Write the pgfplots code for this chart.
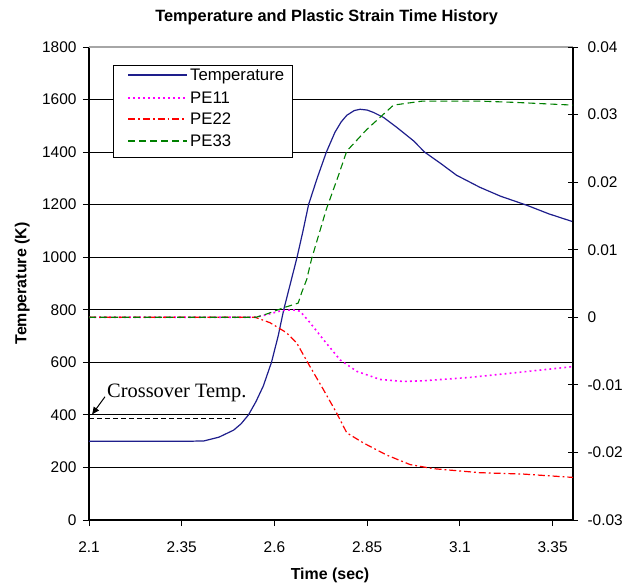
\documentclass[border=0pt]{standalone}
\usepackage{fontspec}
\setmainfont{Liberation Sans}
\newfontfamily\timesfont{Liberation Serif}
\usepackage{pgfplots}
\pgfplotsset{compat=1.18}
\usetikzlibrary{arrows.meta}
\definecolor{tempblue}{RGB}{30,30,140}
\definecolor{pemag}{RGB}{255,0,255}
\definecolor{pered}{RGB}{255,0,0}
\definecolor{pegreen}{RGB}{0,128,0}

\begin{document}
\begin{tikzpicture}
\useasboundingbox (-89bp,-66bp) rectangle (545bp,520bp);
\pgfplotsset{
  common/.style={
    scale only axis, width=484bp, height=473bp,
    xmin=2.1, xmax=3.405,
    at={(0bp,0bp)}, anchor=south west,
    /pgf/number format/assume math mode=true,
    /pgf/number format/1000 sep={},
    tick style={black, line width=0.9bp},
    ticklabel style={font=\fontsize{15.5}{18}\selectfont},
    axis line style={line width=1.1bp, black},
  },
}
\tikzset{
  tempstyle/.style={color=tempblue, line width=1.2bp},
  pe11style/.style={color=pemag, line width=1.6bp, dash pattern=on 1.8bp off 3.2bp},
  pe22style/.style={color=pered, line width=1.2bp, dash pattern=on 7bp off 3bp on 1.8bp off 3bp},
  pe33style/.style={color=pegreen, line width=1.1bp, dash pattern=on 7bp off 4bp},
}
\begin{axis}[common,
  ymin=0, ymax=1800,
  ytick={0,200,...,1800},
  xtick={2.1,2.35,2.6,2.85,3.1,3.35},
  axis x line*=bottom, axis y line*=left,
  tick align=outside, major tick length=6bp,
  xticklabel style={yshift=-12bp},
  yticklabel style={xshift=-3bp},
  ymajorgrids, grid style={black, line width=1bp},
  title={Temperature and Plastic Strain Time History},
  title style={at={(axis description cs:0.491,1.051)}, anchor=center, font=\bfseries\fontsize{16.4}{19}\selectfont},
  xlabel={Time (sec)},
  xlabel style={at={(axis description cs:0.498,-0.1176)}, anchor=center, font=\bfseries\fontsize{16}{19}\selectfont},
  ylabel={Temperature (K)},
  ylabel style={at={(axis description cs:-0.138,0.5)}, anchor=center, font=\bfseries\fontsize{16}{19}\selectfont},
]
\draw[gray!70, line width=1.1bp] (rel axis cs:0,1) -- (rel axis cs:1,1);
\addplot[tempstyle] coordinates {
(2.1,300) (2.2,300) (2.3,300) (2.38,300) (2.41,301) (2.45,315) (2.49,342)
(2.51,366) (2.53,400) (2.55,450) (2.57,510) (2.592,600) (2.61,700)
(2.625,800) (2.643,900) (2.661,1000) (2.677,1100) (2.692,1200) (2.715,1300)
(2.740,1400) (2.763,1475) (2.78,1515) (2.795,1540) (2.815,1558) (2.831,1563)
(2.85,1560) (2.867,1551) (2.894,1532) (2.930,1494) (2.975,1443) (3.005,1400)
(3.05,1355) (3.091,1312) (3.154,1266) (3.21,1232) (3.28,1198) (3.34,1165)
(3.405,1135)
};
\addplot[black, line width=1bp, dash pattern=on 5bp off 3bp] coordinates {(2.1,387) (2.496,387)};
\node[anchor=west, inner sep=0pt, font=\timesfont\fontsize{20.5}{24}\selectfont] at (axis cs:2.1485,484) {Crossover Temp.};
\draw[-{Latex[length=8bp,width=7bp]}, line width=1bp] (axis cs:2.1431,469) -- (axis cs:2.1073,399.6);
\end{axis}
\begin{axis}[common,
  ymin=-0.03, ymax=0.04,
  ytick={-0.03,-0.02,-0.01,0,0.01,0.02,0.03,0.04},
  axis x line=none, axis y line*=right,
  ytick align=center, major tick length=10bp,
  scaled y ticks=false,
  yticklabel style={xshift=6bp, /pgf/number format/.cd, fixed, precision=2},
]
\addplot[pe11style] coordinates {
(2.1,0) (2.55,0) (2.58,0.0004) (2.62,0.0010) (2.65,0.0011) (2.669,0.0009)
(2.696,-0.0008) (2.732,-0.0033) (2.777,-0.0063) (2.822,-0.0080) (2.885,-0.0092)
(2.948,-0.0095) (3.0,-0.0094) (3.127,-0.0089) (3.25,-0.0082) (3.405,-0.0073)
};
\addplot[pe22style] coordinates {
(2.1,0) (2.548,0) (2.588,-0.0008) (2.633,-0.0023) (2.66,-0.0038) (2.696,-0.0073)
(2.732,-0.0107) (2.768,-0.0142) (2.795,-0.0171) (2.840,-0.0186) (2.903,-0.0204)
(2.966,-0.0218) (3.028,-0.0224) (3.154,-0.0230) (3.27,-0.0232) (3.405,-0.0237)
};
\addplot[pe33style] coordinates {
(2.1,0) (2.55,0) (2.58,0.0005) (2.624,0.0014) (2.664,0.0021) (2.673,0.0036)
(2.687,0.0056) (2.70,0.0086) (2.74,0.016) (2.772,0.0209) (2.795,0.0246)
(2.849,0.0278) (2.885,0.0296) (2.921,0.0314) (2.96,0.0317) (3.0,0.0320)
(3.15,0.0320) (3.25,0.0318) (3.405,0.0314)
};
\end{axis}
% legend box
\draw[black, line width=0.9bp, fill=white] (24bp,363bp) rectangle (203bp,455bp);
\draw[tempstyle] (39bp,445bp) -- (98bp,445bp);
\draw[pe11style] (39bp,422bp) -- (98bp,422bp);
\draw[pe22style] (39bp,401bp) -- (98bp,401bp);
\draw[pe33style] (39bp,379bp) -- (98bp,379bp);
\begin{scope}[every node/.style={anchor=base west, inner sep=0pt, font=\fontsize{16.8}{19}\selectfont}]
\node at (101bp,439bp) {Temperature};
\node at (101bp,416bp) {PE11};
\node at (101bp,395bp) {PE22};
\node at (101bp,373bp) {PE33};
\end{scope}
\end{tikzpicture}
\end{document}
